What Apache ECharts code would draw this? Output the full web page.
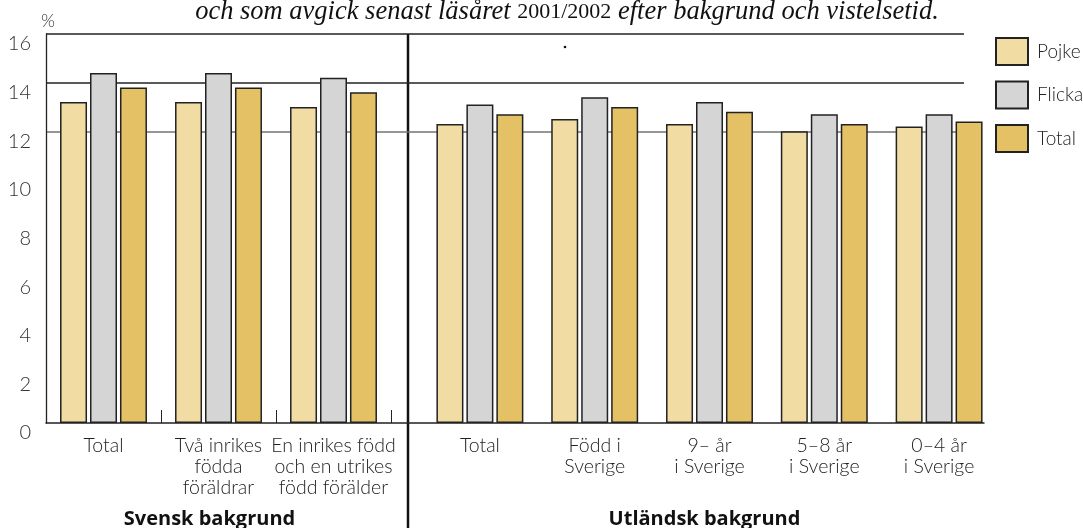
<!DOCTYPE html>
<html>
<head>
<meta charset="utf-8">
<script src="https://cdn.jsdelivr.net/npm/echarts@6/dist/echarts.min.js"></script>
<style>
  html, body { margin: 0; padding: 0; background: #fff; }
  #chart { width: 1083px; height: 528px; }
</style>
</head>
<body>
<div id="chart"></div>
<script>
// categories
var svCats = ['Total', 'Två inrikes\nfödda\nföräldrar', 'En inrikes född\noch en utrikes\nfödd förälder']
var utCats = ['Total', 'Född i\nSverige', '9– år\ni Sverige', '5–8 år\ni Sverige', '0–4 år\ni Sverige']
var seriesNames = ['Pojke', 'Flicka', 'Total']
// values (%)
var svPojke = [13.2, 13.2, 13.0]
var svFlicka = [14.4, 14.4, 14.2]
var svTotal = [13.8, 13.8, 13.6]
var utPojke = [12.3, 12.5, 12.3, 12.0, 12.2]
var utFlicka = [13.1, 13.4, 13.2, 12.7, 12.7]
var utTotal = [12.7, 13.0, 12.8, 12.3, 12.4]
var yTicks = [0, 2, 4, 6, 8, 10, 12, 14, 16]

var colors = ['#f1dca4', '#d5d5d5', '#e5c165']
var labelFont = 'Lato, "Open Sans", sans-serif'
var boldFont = '"Open Sans", Lato, sans-serif'

var chart = echarts.init(document.getElementById('chart'))

function bar(name, data, idx, color) {
  return {
    name: name,
    type: 'bar',
    xAxisIndex: idx,
    yAxisIndex: idx,
    data: data,
    barWidth: 27,
    barGap: '11%',
    itemStyle: { color: color, borderColor: '#222', borderWidth: 1.5 },
    animation: false
  }
}

// only the top three gridlines are drawn (12 grey, 14 and 16 black)
var gridColors = yTicks.map(function (v) {
  if (v === 12) return '#737373'
  if (v > 12) return '#222'
  return 'rgba(0,0,0,0)'
})

var catLabel = {
  interval: 0, margin: 12.5, fontFamily: labelFont, fontWeight: 300,
  fontSize: 19.5, lineHeight: 21, color: '#222'
}
function groupName(shiftLeft) {
  return {
    fontFamily: boldFont, fontWeight: 'bold', fontSize: 20, color: '#111',
    padding: [0, shiftLeft * 2, 0, 0]
  }
}

chart.setOption({
  animation: false,
  legend: {
    data: seriesNames,
    orient: 'vertical',
    left: 995,
    top: 37,
    padding: 0,
    itemWidth: 32,
    itemHeight: 27,
    itemGap: 14.5,
    icon: 'rect',
    textStyle: { fontFamily: labelFont, fontWeight: 300, fontSize: 19, color: '#222', padding: [0, 0, 0, 4] }
  },
  grid: [
    { left: 46, top: 34, width: 345, height: 389, outerBoundsMode: 'none' },
    { left: 422.5, top: 34, width: 574, height: 389, outerBoundsMode: 'none' },
    { left: 46, top: 34, width: 918, height: 389, outerBoundsMode: 'none' },
    { left: 46, top: 34, width: 938, height: 389, outerBoundsMode: 'none' }
  ],
  xAxis: [
    {
      type: 'category', gridIndex: 0, data: svCats,
      axisLine: { show: false },
      axisTick: { show: true, inside: true, length: 13, lineStyle: { color: '#222', width: 1 } },
      axisLabel: catLabel,
      name: 'Svensk bakgrund', nameLocation: 'middle', nameGap: 86,
      nameTextStyle: groupName(9)
    },
    {
      type: 'category', gridIndex: 1, data: utCats,
      axisLine: { show: false },
      axisTick: { show: false },
      axisLabel: catLabel,
      name: 'Utländsk bakgrund', nameLocation: 'middle', nameGap: 86,
      nameTextStyle: groupName(5)
    },
    { type: 'value', gridIndex: 2, show: false },
    {
      type: 'value', gridIndex: 3,
      axisLine: { show: true, onZero: false, lineStyle: { color: '#222', width: 1.5 } },
      axisTick: { show: false }, axisLabel: { show: false }, splitLine: { show: false }
    }
  ],
  yAxis: [
    { type: 'value', gridIndex: 0, min: 0, max: 16, interval: 2, show: false },
    { type: 'value', gridIndex: 1, min: 0, max: 16, interval: 2, show: false },
    {
      type: 'value', gridIndex: 2, min: 0, max: 16, interval: 2,
      axisLine: { show: true, lineStyle: { color: '#222', width: 1.3 } },
      axisTick: { show: false },
      axisLabel: {
        margin: 15, fontFamily: labelFont, fontWeight: 300, fontSize: 20, color: '#333',
        verticalAlign: 'top'
      },
      splitLine: { show: true, lineStyle: { color: gridColors, width: 1.5 } },
      name: '%', nameLocation: 'end', nameGap: 4,
      nameTextStyle: { fontFamily: labelFont, fontWeight: 300, fontSize: 18, color: '#333', align: 'center', padding: [0, 0, 0, 4] }
    },
    { type: 'value', gridIndex: 3, min: 0, max: 16, show: false }
  ],
  series: [
    bar('Pojke', svPojke, 0, colors[0]),
    bar('Flicka', svFlicka, 0, colors[1]),
    bar('Total', svTotal, 0, colors[2]),
    bar('Pojke', utPojke, 1, colors[0]),
    bar('Flicka', utFlicka, 1, colors[1]),
    bar('Total', utTotal, 1, colors[2])
  ],
  graphic: [
    {
      type: 'text',
      x: 567, y: 26,
      style: {
        text: '{i|och som avgick senast läsåret }{n|2001/2002}{i| efter bakgrund och vistelsetid.}',
        textAlign: 'center', textVerticalAlign: 'bottom',
        rich: {
          i: { fontFamily: '"Liberation Serif", serif', fontStyle: 'italic', fontSize: 26.5, fill: '#111' },
          n: { fontFamily: '"Liberation Serif", serif', fontSize: 22, fill: '#111' }
        }
      }
    },
    {
      type: 'line', silent: true,
      shape: { x1: 408, y1: 34, x2: 408, y2: 528 },
      style: { stroke: '#111', lineWidth: 2.5 }
    },
    {
      type: 'circle', silent: true,
      shape: { cx: 565, cy: 47, r: 1.3 },
      style: { fill: '#111' }
    }
  ]
})
</script>
</body>
</html>
